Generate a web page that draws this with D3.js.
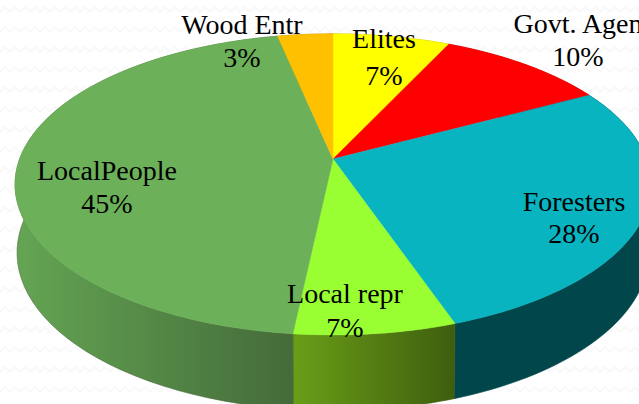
<!DOCTYPE html>
<html><head><meta charset="utf-8">
<script src="https://cdn.jsdelivr.net/npm/d3@7"></script>
<style>html,body{margin:0;padding:0;background:#fff;overflow:hidden}svg{display:block}</style>
</head><body><svg id="c" width="639" height="404"></svg>
<script>
const categories = ["Elites","Govt. Agen","Foresters","Local repr","LocalPeople","Wood Entr"];
const values = [7, 10.2, 27.5, 7, 45, 3.3];
const topColors = ["#ffff00","#ff0000","#08b4c0","#99ff33","#6cb159","#ffc000"];
const sideFrom = ["#a8a800","#a80000","#00464b","#6a9e18","#64a553","#a88000"];
const sideTo   = ["#a8a800","#a80000","#00464b","#3e5e0e","#446b3a","#a88000"];
// [label centre x, name baseline, percent baseline]
const labelLayout = [[384,48,85],[578,33,66],[574,211,243],[345,303,337],[107,180,213],[242,34,67]];

const W = 639, H = 404, K = 0.169;
const svg = d3.select("#c");
const defs = svg.append("defs");
const pat = defs.append("pattern").attr("id","bgp").attr("patternUnits","userSpaceOnUse")
  .attr("width",20).attr("height",20);
pat.append("path").attr("d",d3.line()([[0,12],[5,7],[10,12],[15,7],[20,12]]))
  .attr("fill","none").attr("stroke","#f9f9f9").attr("stroke-width",2);
svg.append("rect").attr("width",W).attr("height",H).attr("fill","#fff");
svg.append("rect").attr("width",W).attr("height",H).attr("fill","url(#bgp)");

// perspective projection of a circle point (angle clockwise from the back)
const project = (ring, t) => {
  const u = Math.sin(t), v = -Math.cos(t), d = 1 - K * v;
  return [ring.x + ring.a * u / d, ring.y + ring.b * v / d];
};
const topRing = {x:333, y:159, a:313.4, b:146.3};
const baseRing = {x:333, y:226, a:311.4, b:153.5};

const arcs = d3.pie().sort(null).value(d => d)(values);
const line = d3.line();
const arcPts = (ring, s, e) => d3.range(0, 61).map(i => project(ring, s + (e - s) * i / 60));

arcs.forEach((a,i) => {
  const p0 = project(topRing, a.startAngle), p1 = project(topRing, a.endAngle);
  const g = defs.append("linearGradient").attr("id","side"+i).attr("gradientUnits","userSpaceOnUse")
    .attr("x1", i===4 ? 15 : Math.min(p0[0],p1[0])).attr("x2", Math.max(p0[0],p1[0])).attr("y1",0).attr("y2",0);
  g.append("stop").attr("offset",0).attr("stop-color",sideFrom[i]);
  g.append("stop").attr("offset",1).attr("stop-color",sideTo[i]);
});

svg.append("g").selectAll("path").data(arcs).join("path")
  .attr("d", a => line(arcPts(topRing,a.startAngle,a.endAngle).concat(arcPts(baseRing,a.endAngle,a.startAngle)))+"Z")
  .attr("fill",(a,i)=>`url(#side${i})`)
  .attr("stroke",(a,i)=>sideTo[i]).attr("stroke-width",0.6);

svg.append("g").selectAll("path").data(arcs).join("path")
  .attr("d", a => line([[topRing.x,topRing.y]].concat(arcPts(topRing,a.startAngle,a.endAngle)))+"Z")
  .attr("fill",(a,i)=>topColors[i])
  .attr("stroke",(a,i)=>topColors[i]).attr("stroke-width",0.5);

const lab = svg.append("g").attr("font-family","'Liberation Serif',serif").attr("font-size",28).attr("fill","#000").attr("text-anchor","middle");
categories.forEach((c,i) => {
  const [x,y1,y2] = labelLayout[i];
  lab.append("text").attr("x",x).attr("y",y1).text(c);
  lab.append("text").attr("x",x).attr("y",y2).text(Math.round(values[i])+"%");
});
</script></body></html>
